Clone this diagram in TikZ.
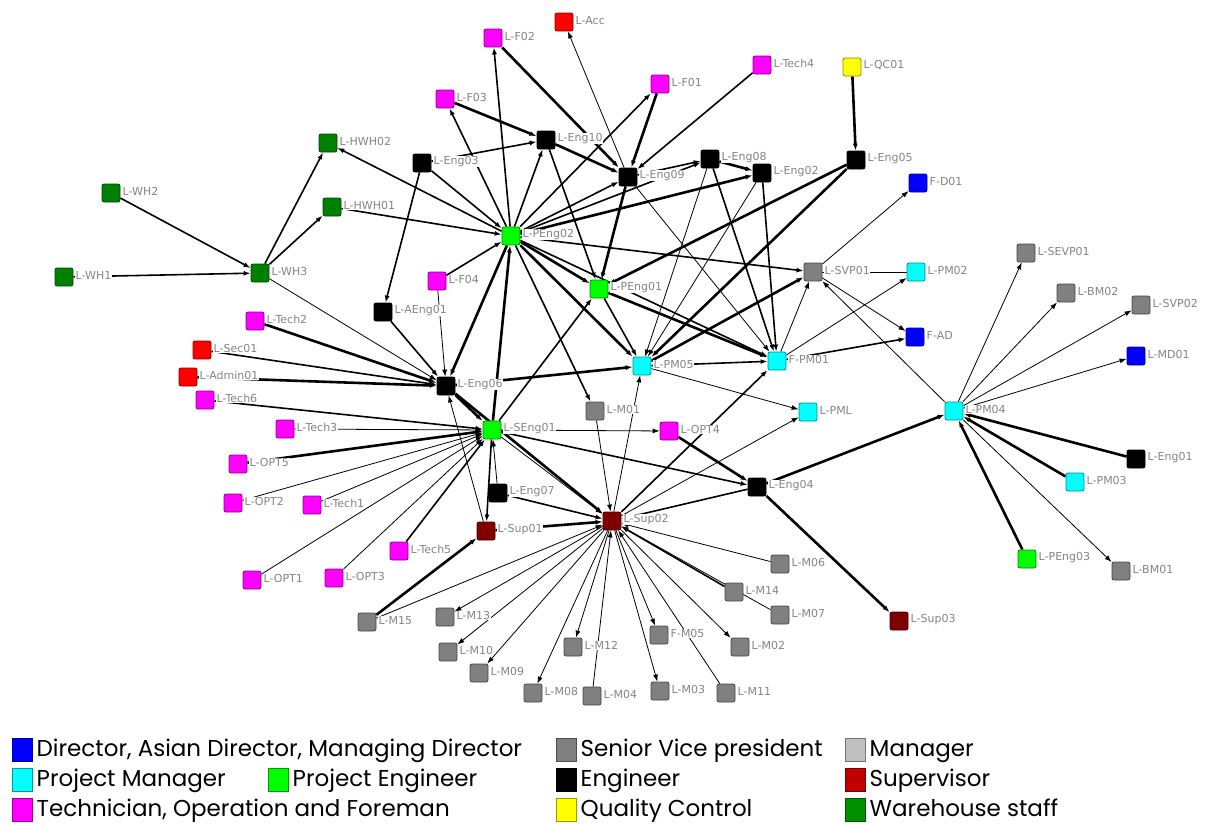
\documentclass[tikz,border=0pt]{standalone}
\usepackage{fontspec}
\newfontfamily\labfont{DejaVu Sans}
\newfontfamily\legfont{Poppins}
\usetikzlibrary{arrows.meta,positioning}
\definecolor{cwh}{HTML}{008000}
\definecolor{cre}{HTML}{FF0000}
\definecolor{cmg}{HTML}{FF00FF}
\definecolor{cqc}{HTML}{FFFF00}
\definecolor{cen}{HTML}{000000}
\definecolor{cdi}{HTML}{0000FF}
\definecolor{cpe}{HTML}{00FF00}
\definecolor{cpm}{HTML}{00FFFF}
\definecolor{csv}{HTML}{808080}
\definecolor{csu}{HTML}{800000}
\definecolor{cma}{HTML}{C0C0C0}
\definecolor{csl}{HTML}{C00000}
\definecolor{cwl}{HTML}{009000}
\definecolor{labgray}{HTML}{858585}
\pgfdeclarelayer{bg}
\pgfsetlayers{bg,main}

\begin{document}
\begin{tikzpicture}[x=1pt,y=-1pt,>={Latex[length=7pt,width=5pt]}]
\tikzset{
 n/.style={draw=#1!55!black,fill=#1,rounded corners=2pt,minimum size=18pt,inner sep=0pt,line width=0.8pt},
 lab/.style={text=labgray,font=\labfont\fontsize{11}{12}\selectfont,fill=white,inner sep=0.6pt,label distance=1.5pt,yshift=1.5pt},
 a/.style={->,line width=0.8pt},
 am/.style={->,line width=1.6pt},
 ak/.style={->,line width=2.6pt},
 k/.style={draw=#1!60!black,fill=#1,minimum width=20pt,minimum height=23pt,inner sep=0pt,line width=1pt},
 kt/.style={font=\legfont\fontsize{23}{25}\selectfont,inner sep=0pt,text height=17pt,text depth=5pt}
}
\useasboundingbox (0,0) rectangle (1205,825);
\foreach \nm/\px/\py/\cl/\lb in {
 WH1/64/277/cwh/L-WH1, WH2/111/193/cwh/L-WH2, WH3/260/273/cwh/L-WH3,
 HWH02/328/143/cwh/L-HWH02, HWH01/332/207/cwh/L-HWH01,
 Acc/564/22/cre/L-Acc, F02/493/38/cmg/L-F02, F03/445/99/cmg/L-F03, F01/660/84/cmg/L-F01,
 Tech4/762/65/cmg/L-Tech4, QC01/852/67/cqc/L-QC01,
 Eng10/546/140/cen/L-Eng10, Eng03/422/163/cen/L-Eng03, Eng09/628/177/cen/L-Eng09,
 Eng08/710/159/cen/L-Eng08, Eng02/762/173/cen/L-Eng02, Eng05/856/160/cen/L-Eng05,
 FD01/918/183/cdi/F-D01, PEng02/511/236/cpe/L-PEng02, F04/437/281/cmg/L-F04,
 PEng01/599/289/cpe/L-PEng01, SVP01/813/272/csv/L-SVP01, PM02/916/272/cpm/L-PM02,
 SEVP01/1026/253/csv/L-SEVP01, BM02/1066/293/csv/L-BM02, SVP02/1141/305/csv/L-SVP02,
 FAD/915/337/cdi/F-AD, MD01/1136/356/cdi/L-MD01,
 AEng01/383/312/cen/L-AEng01, Tech2/255/321/cmg/L-Tech2, Sec01/202/350/cre/L-Sec01,
 Admin01/188/377/cre/L-Admin01, Tech6/205/400/cmg/L-Tech6, Eng06/446/386/cen/L-Eng06,
 PM05/642/366/cpm/L-PM05, FPM01/777/361/cpm/F-PM01, M01/595/411/csv/L-M01,
 OPT4/669/431/cmg/L-OPT4, PML/808/412/cpm/L-PML, PM04/954/411/cpm/L-PM04,
 Tech3/285/429/cmg/L-Tech3, SEng01/492/430/cpe/L-SEng01, OPT5/238/464/cmg/L-OPT5,
 Eng01/1136/459/cen/L-Eng01, PM03/1075/482/cpm/L-PM03, Eng04/757/487/cen/L-Eng04,
 Eng07/498/493/cen/L-Eng07, OPT2/233/503/cmg/L-OPT2, Tech1/312/505/cmg/L-Tech1,
 Sup02/612/521/csu/L-Sup02, Sup01/486/531/csu/L-Sup01, Tech5/399/551/cmg/L-Tech5,
 PEng03/1027/559/cpe/L-PEng03, M06/780/564/csv/L-M06, BM01/1121/571/csv/L-BM01,
 OPT1/252/580/cmg/L-OPT1, OPT3/334/578/cmg/L-OPT3, M14/734/592/csv/L-M14,
 M13/445/617/csv/L-M13, M15/367/622/csv/L-M15, M07/780/615/csv/L-M07,
 Sup03/899/621/csu/L-Sup03, FM05/659/635/csv/F-M05, M12/573/647/csv/L-M12,
 M02/740/647/csv/L-M02, M10/448/652/csv/L-M10, M09/479/673/csv/L-M09,
 M03/660/691/csv/L-M03, M11/726/693/csv/L-M11, M08/533/693/csv/L-M08, M04/592/696/csv/L-M04}
 {\node[n=\cl,label={[lab]right:\lb}] (\nm) at (\px,\py) {};}
\begin{pgfonlayer}{bg}
\foreach \i/\j in {WH3/Eng06,Eng09/Acc,Eng09/FPM01,Eng08/PM05,Eng02/PM05,FPM01/SVP01,PM04/SVP01,
 SVP01/FAD,SVP01/FD01,FPM01/PM02,PM05/PML,Sup02/PML,Sup02/PM05,M01/Sup02,SEng01/OPT4,SEng01/Sup02,
 F04/Eng06,Tech3/SEng01,OPT2/SEng01,Tech1/SEng01,OPT1/SEng01,OPT3/SEng01,M15/Sup02,Sup01/Eng06,
 Eng07/SEng01,M06/Sup02,M07/Sup02,Sup02/M02,M11/Sup02,Sup02/M03,Sup02/FM05,M04/Sup02,Sup02/M12,
 Sup02/M08,Sup02/M09,Sup02/M10,Sup02/M13,PM04/SEVP01,PM04/BM02,PM04/SVP02,PM04/MD01,PM04/BM01}
 {\draw[a] (\i)--(\j);}
\draw[line width=0.8pt] (SVP01)--(PM02);
\foreach \i/\j in {WH2/WH3,WH1/WH3,WH3/HWH02,WH3/HWH01,PEng02/HWH02,HWH01/PEng02,Eng03/AEng01,
 PEng02/F02,PEng02/F03,Eng03/Eng10,PEng02/F01,Tech4/Eng09,Eng03/PEng02,Eng10/PEng01,PEng02/Eng10,
 PEng02/Eng09,PEng02/Eng08,Eng09/Eng08,Eng08/FPM01,Eng02/FPM01,PEng02/SVP01,PEng02/FPM01,
 PEng01/PM05,PEng02/M01,FPM01/FAD,PM05/FPM01,Sup02/FPM01,SEng01/Eng04,Eng04/Sup02,SEng01/PEng01,
 AEng01/Eng06,F04/PEng02,Sec01/Eng06,Tech6/SEng01,Tech5/SEng01,SEng01/Sup01,Eng07/Sup02,M14/Sup02}
 {\draw[am] (\i)--(\j);}
\foreach \i/\j in {F02/Eng09,F03/Eng10,Eng10/Eng09,F01/Eng09,Eng09/PEng01,PEng02/Eng02,Eng05/PEng01,
 Eng05/PM05,Eng08/Eng02,PEng01/FPM01,PEng02/PM05,PM05/SVP01,Eng06/PM05,OPT4/Eng04,Eng04/Sup03,
 Eng04/PM04,Eng06/SEng01,Eng06/Sup02,SEng01/PEng02,PEng02/Eng06,Tech2/Eng06,Admin01/Eng06,
 OPT5/SEng01,M15/Sup01,Sup01/Sup02,Eng01/PM04,PM03/PM04,PEng03/PM04,QC01/Eng05,PEng02/PEng01}
 {\draw[ak] (\i)--(\j);}
\end{pgfonlayer}
\node[k=cdi] (k1) at (22,750) {};
\node[kt,right=4pt of k1] (t1) {Director, Asian Director, Managing Director};
\node[k=csv] (k2) at (566,750) {};
\node[kt,right=4pt of k2] (t2) {Senior Vice president};
\node[k=cma] (k3) at (855,750) {};
\node[kt,right=4pt of k3] (t3) {Manager};
\node[k=cpm] (k4) at (22,780) {};
\node[kt,right=4pt of k4] (t4) {Project Manager};
\node[k=cpe] (k5) at (278,780) {};
\node[kt,right=4pt of k5] (t5) {Project Engineer};
\node[k=cen] (k6) at (566,780) {};
\node[kt,right=4pt of k6] (t6) {Engineer};
\node[k=csl] (k7) at (855,780) {};
\node[kt,right=4pt of k7] (t7) {Supervisor};
\node[k=cmg] (k8) at (22,810) {};
\node[kt,right=4pt of k8] (t8) {Technician, Operation and Foreman};
\node[k=cqc] (k9) at (566,810) {};
\node[kt,right=4pt of k9] (t9) {Quality Control};
\node[k=cwl] (k10) at (855,810) {};
\node[kt,right=4pt of k10] (t10) {Warehouse staff};
\end{tikzpicture}
\end{document}
